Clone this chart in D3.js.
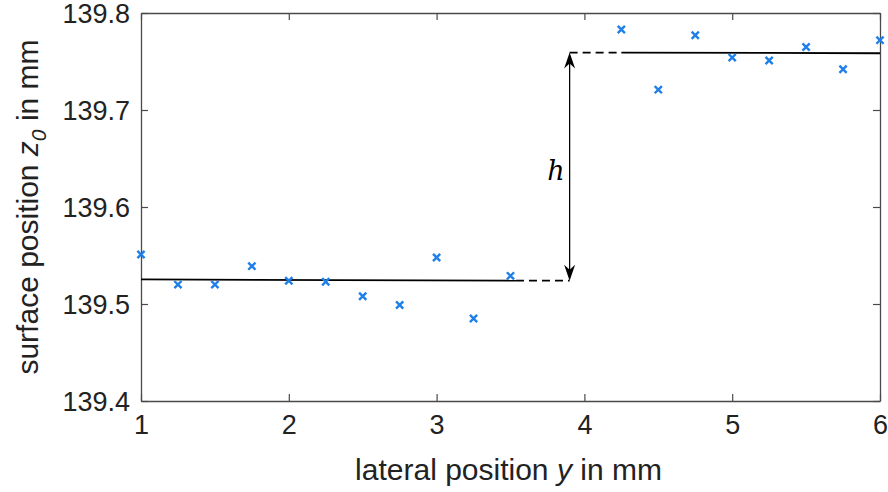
<!DOCTYPE html>
<html>
<head>
<meta charset="utf-8">
<script src="https://cdn.jsdelivr.net/npm/d3@7"></script>
<style>
  html, body { margin: 0; padding: 0; background: #fff; }
  svg { display: block; font-family: "Liberation Sans", Arial, Helvetica, sans-serif; }
</style>
</head>
<body>
<svg id="chart" width="888" height="492"></svg>
<script>
// ---- data ----
const positions = [1, 1.25, 1.5, 1.75, 2, 2.25, 2.5, 2.75, 3, 3.25, 3.5,
                   4.25, 4.5, 4.75, 5, 5.25, 5.5, 5.75, 6];
const surfaceZ = [139.551, 139.520, 139.520, 139.539, 139.524, 139.523, 139.508, 139.499, 139.548, 139.485, 139.529,
                  139.783, 139.721, 139.777, 139.754, 139.751, 139.765, 139.742, 139.772];
const lowerFitX = [1, 3.537];
const lowerFitZ = [139.5253, 139.5240];
const lowerDashX = [3.537, 3.9];
const lowerDashZ = [139.5240, 139.5240];
const upperFitX = [4.25, 6];
const upperFitZ = [139.7592, 139.7585];
const upperDashX = [3.9, 4.25];
const upperDashZ = [139.7592, 139.7592];
const stepX = 3.9;
const xTicks = [1, 2, 3, 4, 5, 6];
const yTicks = [139.4, 139.5, 139.6, 139.7, 139.8];

// ---- layout ----
const mLeft = 141, mRight = 880, mTop = 13, mBottom = 401;
const svg = d3.select("#chart");
const x = d3.scaleLinear().domain([1, 6]).range([mLeft, mRight]);
const y = d3.scaleLinear().domain([139.4, 139.8]).range([mBottom, mTop]);
const axisColor = "#4a4a4a";

// axes (box)
const gB = svg.append("g").attr("transform", `translate(0,${mBottom})`)
  .call(d3.axisBottom(x).tickValues(xTicks).tickFormat(d3.format("d")).tickSizeInner(-7).tickSizeOuter(0).tickPadding(14));
const gT = svg.append("g").attr("transform", `translate(0,${mTop})`)
  .call(d3.axisTop(x).tickValues(xTicks).tickFormat("").tickSizeInner(-7).tickSizeOuter(0));
const gL = svg.append("g").attr("transform", `translate(${mLeft},0)`)
  .call(d3.axisLeft(y).tickValues(yTicks).tickFormat(d3.format(".1f")).tickSizeInner(-7).tickSizeOuter(0).tickPadding(11));
const gR = svg.append("g").attr("transform", `translate(${mRight},0)`)
  .call(d3.axisRight(y).tickValues(yTicks).tickFormat("").tickSizeInner(-7).tickSizeOuter(0));
[gB, gT, gL, gR].forEach(g => {
  g.select(".domain").attr("stroke", axisColor).attr("stroke-width", 1.3);
  g.selectAll(".tick line").attr("stroke", axisColor).attr("stroke-width", 1.2);
  g.selectAll(".tick text").attr("fill", "#222").attr("font-size", 27)
    .attr("font-family", "Liberation Sans, Arial, sans-serif");
});
gB.selectAll(".tick text").attr("dy", "0.71em");
gL.selectAll(".tick text").attr("dy", "0.36em");

// fit lines
const line = d3.line().x(d => x(d[0])).y(d => y(d[1]));
svg.append("path").datum(d3.zip(lowerFitX, lowerFitZ)).attr("d", line)
  .attr("fill", "none").attr("stroke", "#000").attr("stroke-width", 1.8);
svg.append("path").datum(d3.zip(upperFitX, upperFitZ)).attr("d", line)
  .attr("fill", "none").attr("stroke", "#000").attr("stroke-width", 1.8);
svg.append("path").datum(d3.zip(lowerDashX, lowerDashZ)).attr("d", line)
  .attr("fill", "none").attr("stroke", "#000").attr("stroke-width", 1.8).attr("stroke-dasharray", "8,5");
svg.append("path").datum(d3.zip(upperDashX, upperDashZ)).attr("d", line)
  .attr("fill", "none").attr("stroke", "#000").attr("stroke-width", 1.8).attr("stroke-dasharray", "8,5");

// double arrow for h
const ax = x(stepX), yTop = y(upperDashZ[0]), yBot = y(lowerDashZ[0]);
const headL = 16, headW = 5.5, notch = 5;
svg.append("line").attr("x1", ax).attr("x2", ax).attr("y1", yTop + 8).attr("y2", yBot - 8)
  .attr("stroke", "#000").attr("stroke-width", 1.3);
svg.append("path")
  .attr("d", `M${ax},${yTop} L${ax - headW},${yTop + headL} L${ax},${yTop + headL - notch} L${ax + headW},${yTop + headL} Z`)
  .attr("fill", "#000");
svg.append("path")
  .attr("d", `M${ax},${yBot} L${ax - headW},${yBot - headL} L${ax},${yBot - headL + notch} L${ax + headW},${yBot - headL} Z`)
  .attr("fill", "#000");
svg.append("text").attr("x", ax - 5).attr("y", (yTop + yBot) / 2 + 13)
  .attr("text-anchor", "end").attr("font-family", "DejaVu Serif, Liberation Serif, serif")
  .attr("font-style", "italic").attr("font-size", 27).attr("fill", "#000").text("h");

// markers
const ms = 3.6;
const markers = svg.append("g").attr("stroke", "#1f7fe8").attr("stroke-width", 2.4).attr("fill", "none");
d3.zip(positions, surfaceZ).forEach(([px, pz]) => {
  const cx = x(px), cy = y(pz);
  markers.append("path").attr("d", `M${cx - ms},${cy - ms}L${cx + ms},${cy + ms}M${cx - ms},${cy + ms}L${cx + ms},${cy - ms}`);
});

// axis labels
const xl = svg.append("text").attr("x", (mLeft + mRight) / 2 - 2).attr("y", 480)
  .attr("text-anchor", "middle").attr("font-size", 30).attr("fill", "#222");
xl.append("tspan").text("lateral position ");
xl.append("tspan").attr("font-style", "italic").text("y");
xl.append("tspan").text(" in mm");

const yl = svg.append("text").attr("transform", `translate(38,${(mTop + mBottom) / 2}) rotate(-90)`)
  .attr("text-anchor", "middle").attr("font-size", 30).attr("fill", "#222");
yl.append("tspan").text("surface position ");
yl.append("tspan").attr("font-style", "italic").text("z");
yl.append("tspan").attr("font-style", "italic").attr("font-size", 21).attr("dy", 8).text("0");
yl.append("tspan").attr("dy", -8).text(" in mm");
</script>
</body>
</html>
